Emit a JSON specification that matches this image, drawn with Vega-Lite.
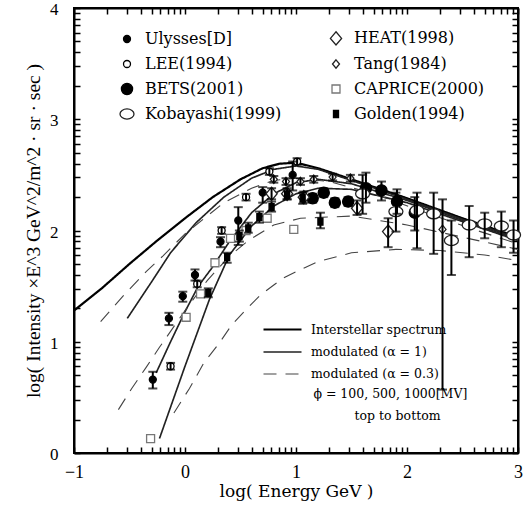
{
  "$schema": "https://vega.github.io/schema/vega-lite/v6.json",
  "width": 444,
  "height": 445,
  "autosize": {"type": "none"},
  "padding": {"left": 74, "top": 8, "right": 8, "bottom": 57},
  "background": "white",
  "config": {
    "font": "Liberation Serif",
    "view": {"stroke": "black", "strokeWidth": 2},
    "axis": {"grid": false, "domainColor": "black", "domainWidth": 2, "tickColor": "black", "tickWidth": 1.5, "labelColor": "black", "titleColor": "black", "labelFont": "Liberation Serif", "titleFont": "Liberation Serif", "labelFontSize": 18, "titleFontSize": 19, "titleFontWeight": "normal", "labelOverlap": false, "labelFlush": false},
    "legend": {"labelFont": "DejaVu Serif", "labelColor": "black", "padding": 0}
  },
  "datasets": {
    "curves": [
      {"c": "Interstellar spectrum", "g": "IS", "x": -1, "y": 1.28},
      {"c": "Interstellar spectrum", "g": "IS", "x": -0.75, "y": 1.48},
      {"c": "Interstellar spectrum", "g": "IS", "x": -0.5, "y": 1.70},
      {"c": "Interstellar spectrum", "g": "IS", "x": -0.25, "y": 1.91},
      {"c": "Interstellar spectrum", "g": "IS", "x": 0, "y": 2.11},
      {"c": "Interstellar spectrum", "g": "IS", "x": 0.25, "y": 2.30},
      {"c": "Interstellar spectrum", "g": "IS", "x": 0.5, "y": 2.46},
      {"c": "Interstellar spectrum", "g": "IS", "x": 0.7, "y": 2.56},
      {"c": "Interstellar spectrum", "g": "IS", "x": 0.85, "y": 2.60},
      {"c": "Interstellar spectrum", "g": "IS", "x": 1.0, "y": 2.61},
      {"c": "Interstellar spectrum", "g": "IS", "x": 1.2, "y": 2.56},
      {"c": "Interstellar spectrum", "g": "IS", "x": 1.5, "y": 2.46},
      {"c": "Interstellar spectrum", "g": "IS", "x": 2.0, "y": 2.29},
      {"c": "Interstellar spectrum", "g": "IS", "x": 2.5, "y": 2.11},
      {"c": "Interstellar spectrum", "g": "IS", "x": 3.0, "y": 1.94},

      {"c": "modulated (α = 1)", "g": "S100", "x": -0.52, "y": 1.21},
      {"c": "modulated (α = 1)", "g": "S100", "x": -0.42, "y": 1.36},
      {"c": "modulated (α = 1)", "g": "S100", "x": -0.3, "y": 1.54},
      {"c": "modulated (α = 1)", "g": "S100", "x": -0.13, "y": 1.80},
      {"c": "modulated (α = 1)", "g": "S100", "x": 0.1, "y": 2.07},
      {"c": "modulated (α = 1)", "g": "S100", "x": 0.35, "y": 2.30},
      {"c": "modulated (α = 1)", "g": "S100", "x": 0.6, "y": 2.47},
      {"c": "modulated (α = 1)", "g": "S100", "x": 0.8, "y": 2.55},
      {"c": "modulated (α = 1)", "g": "S100", "x": 1.0, "y": 2.58},
      {"c": "modulated (α = 1)", "g": "S100", "x": 1.2, "y": 2.55},
      {"c": "modulated (α = 1)", "g": "S100", "x": 1.5, "y": 2.45},
      {"c": "modulated (α = 1)", "g": "S100", "x": 2.0, "y": 2.28},
      {"c": "modulated (α = 1)", "g": "S100", "x": 2.5, "y": 2.10},
      {"c": "modulated (α = 1)", "g": "S100", "x": 3.0, "y": 1.93},

      {"c": "modulated (α = 1)", "g": "S500", "x": -0.26, "y": 0.72},
      {"c": "modulated (α = 1)", "g": "S500", "x": -0.13, "y": 1.0},
      {"c": "modulated (α = 1)", "g": "S500", "x": 0.0, "y": 1.27},
      {"c": "modulated (α = 1)", "g": "S500", "x": 0.12, "y": 1.50},
      {"c": "modulated (α = 1)", "g": "S500", "x": 0.24, "y": 1.66},
      {"c": "modulated (α = 1)", "g": "S500", "x": 0.4, "y": 1.90},
      {"c": "modulated (α = 1)", "g": "S500", "x": 0.6, "y": 2.16},
      {"c": "modulated (α = 1)", "g": "S500", "x": 0.8, "y": 2.33},
      {"c": "modulated (α = 1)", "g": "S500", "x": 1.0, "y": 2.43},
      {"c": "modulated (α = 1)", "g": "S500", "x": 1.2, "y": 2.46},
      {"c": "modulated (α = 1)", "g": "S500", "x": 1.5, "y": 2.42},
      {"c": "modulated (α = 1)", "g": "S500", "x": 2.0, "y": 2.27},
      {"c": "modulated (α = 1)", "g": "S500", "x": 2.5, "y": 2.09},
      {"c": "modulated (α = 1)", "g": "S500", "x": 3.0, "y": 1.92},

      {"c": "modulated (α = 1)", "g": "S1000", "x": -0.23, "y": 0.13},
      {"c": "modulated (α = 1)", "g": "S1000", "x": 0.0, "y": 0.78},
      {"c": "modulated (α = 1)", "g": "S1000", "x": 0.22, "y": 1.38},
      {"c": "modulated (α = 1)", "g": "S1000", "x": 0.4, "y": 1.78},
      {"c": "modulated (α = 1)", "g": "S1000", "x": 0.6, "y": 2.04},
      {"c": "modulated (α = 1)", "g": "S1000", "x": 0.8, "y": 2.22},
      {"c": "modulated (α = 1)", "g": "S1000", "x": 1.0, "y": 2.33},
      {"c": "modulated (α = 1)", "g": "S1000", "x": 1.2, "y": 2.38},
      {"c": "modulated (α = 1)", "g": "S1000", "x": 1.5, "y": 2.37},
      {"c": "modulated (α = 1)", "g": "S1000", "x": 2.0, "y": 2.25},
      {"c": "modulated (α = 1)", "g": "S1000", "x": 2.5, "y": 2.08},
      {"c": "modulated (α = 1)", "g": "S1000", "x": 3.0, "y": 1.91},

      {"c": "modulated (α = 0.3)", "g": "D100", "x": -0.76, "y": 1.18},
      {"c": "modulated (α = 0.3)", "g": "D100", "x": -0.55, "y": 1.42},
      {"c": "modulated (α = 0.3)", "g": "D100", "x": -0.35, "y": 1.63},
      {"c": "modulated (α = 0.3)", "g": "D100", "x": -0.2, "y": 1.77},
      {"c": "modulated (α = 0.3)", "g": "D100", "x": 0.0, "y": 1.97},
      {"c": "modulated (α = 0.3)", "g": "D100", "x": 0.2, "y": 2.13},
      {"c": "modulated (α = 0.3)", "g": "D100", "x": 0.35, "y": 2.25},
      {"c": "modulated (α = 0.3)", "g": "D100", "x": 0.6, "y": 2.38},
      {"c": "modulated (α = 0.3)", "g": "D100", "x": 0.8, "y": 2.45},
      {"c": "modulated (α = 0.3)", "g": "D100", "x": 1.0, "y": 2.47},
      {"c": "modulated (α = 0.3)", "g": "D100", "x": 1.3, "y": 2.44},
      {"c": "modulated (α = 0.3)", "g": "D100", "x": 1.7, "y": 2.33},
      {"c": "modulated (α = 0.3)", "g": "D100", "x": 2.2, "y": 2.15},
      {"c": "modulated (α = 0.3)", "g": "D100", "x": 2.6, "y": 2.01},
      {"c": "modulated (α = 0.3)", "g": "D100", "x": 3.0, "y": 1.88},

      {"c": "modulated (α = 0.3)", "g": "D500", "x": -0.6, "y": 0.39},
      {"c": "modulated (α = 0.3)", "g": "D500", "x": -0.48, "y": 0.58},
      {"c": "modulated (α = 0.3)", "g": "D500", "x": -0.35, "y": 0.77},
      {"c": "modulated (α = 0.3)", "g": "D500", "x": -0.23, "y": 0.95},
      {"c": "modulated (α = 0.3)", "g": "D500", "x": 0.0, "y": 1.28},
      {"c": "modulated (α = 0.3)", "g": "D500", "x": 0.2, "y": 1.55},
      {"c": "modulated (α = 0.3)", "g": "D500", "x": 0.4, "y": 1.77},
      {"c": "modulated (α = 0.3)", "g": "D500", "x": 0.57, "y": 1.91},
      {"c": "modulated (α = 0.3)", "g": "D500", "x": 0.8, "y": 2.05},
      {"c": "modulated (α = 0.3)", "g": "D500", "x": 1.04, "y": 2.11},
      {"c": "modulated (α = 0.3)", "g": "D500", "x": 1.5, "y": 2.13},
      {"c": "modulated (α = 0.3)", "g": "D500", "x": 2.0, "y": 2.05},
      {"c": "modulated (α = 0.3)", "g": "D500", "x": 2.5, "y": 1.94},
      {"c": "modulated (α = 0.3)", "g": "D500", "x": 3.0, "y": 1.83},

      {"c": "modulated (α = 0.3)", "g": "D1000", "x": -0.1, "y": 0.36},
      {"c": "modulated (α = 0.3)", "g": "D1000", "x": 0.04, "y": 0.58},
      {"c": "modulated (α = 0.3)", "g": "D1000", "x": 0.17, "y": 0.81},
      {"c": "modulated (α = 0.3)", "g": "D1000", "x": 0.31, "y": 0.99},
      {"c": "modulated (α = 0.3)", "g": "D1000", "x": 0.42, "y": 1.15},
      {"c": "modulated (α = 0.3)", "g": "D1000", "x": 0.56, "y": 1.30},
      {"c": "modulated (α = 0.3)", "g": "D1000", "x": 0.68, "y": 1.42},
      {"c": "modulated (α = 0.3)", "g": "D1000", "x": 0.8, "y": 1.51},
      {"c": "modulated (α = 0.3)", "g": "D1000", "x": 0.9, "y": 1.58},
      {"c": "modulated (α = 0.3)", "g": "D1000", "x": 1.02, "y": 1.64},
      {"c": "modulated (α = 0.3)", "g": "D1000", "x": 1.2, "y": 1.72},
      {"c": "modulated (α = 0.3)", "g": "D1000", "x": 1.5, "y": 1.80},
      {"c": "modulated (α = 0.3)", "g": "D1000", "x": 1.9, "y": 1.83},
      {"c": "modulated (α = 0.3)", "g": "D1000", "x": 2.3, "y": 1.82},
      {"c": "modulated (α = 0.3)", "g": "D1000", "x": 2.7, "y": 1.78},
      {"c": "modulated (α = 0.3)", "g": "D1000", "x": 3.0, "y": 1.73}
    ],
    "pts": [
      {"e": "Ulysses[D]", "x": -0.29, "y": 0.66, "lo": 0.58, "hi": 0.73},
      {"e": "Ulysses[D]", "x": -0.145, "y": 1.21, "lo": 1.15, "hi": 1.26},
      {"e": "Ulysses[D]", "x": -0.02, "y": 1.41, "lo": 1.36, "hi": 1.45},
      {"e": "Ulysses[D]", "x": 0.09, "y": 1.60, "lo": 1.55, "hi": 1.65},
      {"e": "Ulysses[D]", "x": 0.32, "y": 1.90, "lo": 1.85, "hi": 1.94},
      {"e": "Ulysses[D]", "x": 0.48, "y": 2.09, "lo": 1.87, "hi": 2.21},
      {"e": "Ulysses[D]", "x": 0.70, "y": 2.34, "lo": 2.25, "hi": 2.39},
      {"e": "Ulysses[D]", "x": 0.97, "y": 2.50, "lo": 2.36, "hi": 2.62},

      {"e": "LEE(1994)", "x": -0.13, "y": 0.78, "lo": 0.75, "hi": 0.81},
      {"e": "LEE(1994)", "x": 0.11, "y": 1.52, "lo": 1.49, "hi": 1.55},
      {"e": "LEE(1994)", "x": 0.33, "y": 2.0, "lo": 1.97, "hi": 2.03},
      {"e": "LEE(1994)", "x": 0.55, "y": 2.30, "lo": 2.27, "hi": 2.33},
      {"e": "LEE(1994)", "x": 0.76, "y": 2.53, "lo": 2.50, "hi": 2.56},
      {"e": "LEE(1994)", "x": 1.01, "y": 2.62, "lo": 2.59, "hi": 2.65},

      {"e": "BETS(2001)", "x": 1.15, "y": 2.29, "lo": 2.25, "hi": 2.33},
      {"e": "BETS(2001)", "x": 1.25, "y": 2.34, "lo": 2.30, "hi": 2.38},
      {"e": "BETS(2001)", "x": 1.35, "y": 2.25, "lo": 2.21, "hi": 2.29},
      {"e": "BETS(2001)", "x": 1.47, "y": 2.26, "lo": 2.22, "hi": 2.30},
      {"e": "BETS(2001)", "x": 1.63, "y": 2.38, "lo": 2.25, "hi": 2.52},
      {"e": "BETS(2001)", "x": 1.77, "y": 2.36, "lo": 2.27, "hi": 2.44},
      {"e": "BETS(2001)", "x": 1.91, "y": 2.26, "lo": 2.15, "hi": 2.37},
      {"e": "BETS(2001)", "x": 2.07, "y": 2.16, "lo": 2.0, "hi": 2.30},

      {"e": "Kobayashi(1999)", "x": 1.60, "y": 2.33, "lo": 2.15, "hi": 2.50},
      {"e": "Kobayashi(1999)", "x": 1.90, "y": 2.17, "lo": 1.99, "hi": 2.34},
      {"e": "Kobayashi(1999)", "x": 2.09, "y": 2.18, "lo": 1.84, "hi": 2.34},
      {"e": "Kobayashi(1999)", "x": 2.24, "y": 2.15, "lo": 1.79, "hi": 2.34},
      {"e": "Kobayashi(1999)", "x": 2.40, "y": 1.91, "lo": 1.60, "hi": 2.09},
      {"e": "Kobayashi(1999)", "x": 2.56, "y": 2.05, "lo": 1.76, "hi": 2.22},
      {"e": "Kobayashi(1999)", "x": 2.70, "y": 2.06, "lo": 1.93, "hi": 2.16},
      {"e": "Kobayashi(1999)", "x": 2.85, "y": 2.04, "lo": 1.85, "hi": 2.17},
      {"e": "Kobayashi(1999)", "x": 2.96, "y": 1.96, "lo": 1.80, "hi": 2.09},

      {"e": "HEAT(1998)", "x": 0.78, "y": 2.33, "lo": 2.28, "hi": 2.38},
      {"e": "HEAT(1998)", "x": 0.92, "y": 2.33, "lo": 2.28, "hi": 2.38},
      {"e": "HEAT(1998)", "x": 1.07, "y": 2.30, "lo": 2.25, "hi": 2.35},
      {"e": "HEAT(1998)", "x": 1.55, "y": 2.20, "lo": 2.14, "hi": 2.27},
      {"e": "HEAT(1998)", "x": 1.83, "y": 1.99, "lo": 1.85, "hi": 2.11},

      {"e": "Tang(1984)", "x": 0.80, "y": 2.46, "lo": 2.43, "hi": 2.49},
      {"e": "Tang(1984)", "x": 0.91, "y": 2.44, "lo": 2.41, "hi": 2.47},
      {"e": "Tang(1984)", "x": 1.04, "y": 2.44, "lo": 2.41, "hi": 2.47},
      {"e": "Tang(1984)", "x": 1.16, "y": 2.46, "lo": 2.43, "hi": 2.49},
      {"e": "Tang(1984)", "x": 1.33, "y": 2.48, "lo": 2.45, "hi": 2.51},
      {"e": "Tang(1984)", "x": 1.49, "y": 2.47, "lo": 2.44, "hi": 2.50},
      {"e": "Tang(1984)", "x": 2.32, "y": 2.01, "lo": 0.57, "hi": 2.28},

      {"e": "CAPRICE(2000)", "x": -0.31, "y": 0.13},
      {"e": "CAPRICE(2000)", "x": 0.01, "y": 1.22},
      {"e": "CAPRICE(2000)", "x": 0.14, "y": 1.43},
      {"e": "CAPRICE(2000)", "x": 0.27, "y": 1.71},
      {"e": "CAPRICE(2000)", "x": 0.41, "y": 1.93},
      {"e": "CAPRICE(2000)", "x": 0.55, "y": 2.0},
      {"e": "CAPRICE(2000)", "x": 0.74, "y": 2.11},
      {"e": "CAPRICE(2000)", "x": 0.98, "y": 2.01},

      {"e": "Golden(1994)", "x": 0.21, "y": 1.44, "lo": 1.40, "hi": 1.48},
      {"e": "Golden(1994)", "x": 0.38, "y": 1.76, "lo": 1.71, "hi": 1.80},
      {"e": "Golden(1994)", "x": 0.49, "y": 1.95, "lo": 1.90, "hi": 2.0},
      {"e": "Golden(1994)", "x": 0.57, "y": 2.02, "lo": 1.98, "hi": 2.07},
      {"e": "Golden(1994)", "x": 0.67, "y": 2.12, "lo": 2.07, "hi": 2.17},
      {"e": "Golden(1994)", "x": 0.78, "y": 2.21, "lo": 2.17, "hi": 2.26},
      {"e": "Golden(1994)", "x": 0.92, "y": 2.32, "lo": 2.28, "hi": 2.36},
      {"e": "Golden(1994)", "x": 1.06, "y": 2.29, "lo": 2.24, "hi": 2.34},
      {"e": "Golden(1994)", "x": 1.22, "y": 2.08, "lo": 2.02, "hi": 2.16}
    ],
    "notes": [
      {"t": "ϕ  =  100, 500, 1000[MV]", "x": 1.85, "y": 0.53},
      {"t": "top to bottom", "x": 1.915, "y": 0.33}
    ]
  },
  "layer": [
    {
      "data": {"name": "curves"},
      "mark": {"type": "line", "strokeCap": "butt"},
      "encoding": {
        "x": {"field": "x", "type": "quantitative",
              "scale": {"domain": [-1, 3], "nice": false, "zero": false},
              "axis": {"orient": "bottom", "title": "log( Energy   GeV )", "titlePadding": 2, "titleFont": "DejaVu Serif", "titleFontSize": 17,
                       "values": [-1,-0.69897,-0.52288,-0.39794,-0.30103,-0.22185,-0.1549,-0.09691,-0.04576,0,0.30103,0.47712,0.60206,0.69897,0.77815,0.8451,0.90309,0.95424,1,1.30103,1.47712,1.60206,1.69897,1.77815,1.8451,1.90309,1.95424,2,2.30103,2.47712,2.60206,2.69897,2.77815,2.8451,2.90309,2.95424,3],
                       "labelExpr": "abs(datum.value - round(datum.value)) < 0.001 ? format(datum.value, 'd') : ''",
                       "tickSize": -6, "labelPadding": 16}},
        "y": {"field": "y", "type": "quantitative",
              "scale": {"domain": [0, 4], "nice": false, "zero": false},
              "axis": {"orient": "left", "title": "log( Intensity ×E^3  GeV^2/m^2 · sr · sec )", "titlePadding": 6, "titleFontSize": 19.5,
                       "values": [0,0.30103,0.47712,0.60206,0.69897,0.77815,0.8451,0.90309,0.95424,1,1.30103,1.47712,1.60206,1.69897,1.77815,1.8451,1.90309,1.95424,2,2.30103,2.47712,2.60206,2.69897,2.77815,2.8451,2.90309,2.95424,3,3.30103,3.47712,3.60206,3.69897,3.77815,3.8451,3.90309,3.95424,4],
                       "labelExpr": "abs(datum.value - round(datum.value)) < 0.001 ? format(datum.value, 'd') : ''",
                       "tickSize": -6, "labelPadding": 22, "labelOffset": 1.5, "labelFontSize": 17}},
        "color": {"field": "c", "type": "nominal",
                  "scale": {"domain": ["Interstellar spectrum", "modulated (α = 1)", "modulated (α = 0.3)"], "range": ["#000000", "#222222", "#444444"]},
                  "legend": {"title": null, "orient": "none", "legendX": 197.5, "legendY": 310.5, "symbolType": "M-2,0L2,0", "symbolSize": 361, "symbolFillColor": "transparent", "labelFontSize": 12.5, "rowPadding": 5, "labelOffset": 17.5}},
        "strokeDash": {"field": "c", "type": "nominal",
                  "scale": {"domain": ["Interstellar spectrum", "modulated (α = 1)", "modulated (α = 0.3)"], "range": [[1, 0], [1, 0], [13, 9]]},
                  "legend": {"title": null, "orient": "none", "legendX": 197.5, "legendY": 310.5, "symbolType": "M-2,0L2,0", "symbolSize": 361, "symbolFillColor": "transparent", "labelFontSize": 12.5, "rowPadding": 5, "labelOffset": 17.5}},
        "strokeWidth": {"field": "c", "type": "nominal",
                  "scale": {"domain": ["Interstellar spectrum", "modulated (α = 1)", "modulated (α = 0.3)"], "range": [2.2, 1.1, 1.1]},
                  "legend": {"title": null, "orient": "none", "legendX": 197.5, "legendY": 310.5, "symbolType": "M-2,0L2,0", "symbolSize": 361, "symbolFillColor": "transparent", "labelFontSize": 12.5, "rowPadding": 5, "labelOffset": 17.5}},
        "detail": {"field": "g"}
      }
    },
    {
      "data": {"name": "curves"},
      "mark": {"type": "point", "opacity": 0},
      "encoding": {
        "x": {"field": "x", "type": "quantitative",
              "axis": {"orient": "top", "title": null, "labels": false,
                       "values": [-1,-0.69897,-0.52288,-0.39794,-0.30103,-0.22185,-0.1549,-0.09691,-0.04576,0,0.30103,0.47712,0.60206,0.69897,0.77815,0.8451,0.90309,0.95424,1,1.30103,1.47712,1.60206,1.69897,1.77815,1.8451,1.90309,1.95424,2,2.30103,2.47712,2.60206,2.69897,2.77815,2.8451,2.90309,2.95424,3],
                       "tickSize": -6}},
        "y": {"field": "y", "type": "quantitative",
              "axis": {"orient": "right", "title": null, "labels": false,
                       "values": [0,0.30103,0.47712,0.60206,0.69897,0.77815,0.8451,0.90309,0.95424,1,1.30103,1.47712,1.60206,1.69897,1.77815,1.8451,1.90309,1.95424,2,2.30103,2.47712,2.60206,2.69897,2.77815,2.8451,2.90309,2.95424,3,3.30103,3.47712,3.60206,3.69897,3.77815,3.8451,3.90309,3.95424,4],
                       "tickSize": -6}}
      }
    },
    {
      "data": {"name": "pts"},
      "mark": {"type": "point", "opacity": 1, "strokeWidth": 1.3, "size": 196},
      "encoding": {
        "x": {"field": "x", "type": "quantitative", "axis": null},
        "y": {"field": "y", "type": "quantitative", "axis": null},
        "shape": {"field": "e", "type": "nominal",
                  "scale": {"domain": ["Ulysses[D]", "LEE(1994)", "BETS(2001)", "Kobayashi(1999)", "HEAT(1998)", "Tang(1984)", "CAPRICE(2000)", "Golden(1994)"],
                            "range": ["M-0.5,0A0.5,0.5,0,1,1,0.5,0A0.5,0.5,0,1,1,-0.5,0Z",
                                      "M-0.5,0A0.5,0.5,0,1,1,0.5,0A0.5,0.5,0,1,1,-0.5,0Z",
                                      "M-0.8,0A0.8,0.8,0,1,1,0.8,0A0.8,0.8,0,1,1,-0.8,0Z",
                                      "M-1,0A1,0.72,0,1,1,1,0A1,0.72,0,1,1,-1,0Z",
                                      "M0,-0.95L0.8,0L0,0.95L-0.8,0Z",
                                      "M0,-0.6L0.5,0L0,0.6L-0.5,0Z",
                                      "M-0.57,-0.57L0.57,-0.57L0.57,0.57L-0.57,0.57Z",
                                      "M-0.36,-0.5L0.36,-0.5L0.36,0.5L-0.36,0.5Z"]},
                  "legend": {"title": null, "orient": "none", "legendX": 45, "legendY": 22, "columns": 2, "columnPadding": 45, "labelFontSize": 16, "rowPadding": 8, "labelOffset": 10, "symbolSize": 196, "symbolStrokeWidth": 1.3}},
        "fill": {"field": "e", "type": "nominal",
                  "scale": {"domain": ["Ulysses[D]", "LEE(1994)", "BETS(2001)", "Kobayashi(1999)", "HEAT(1998)", "Tang(1984)", "CAPRICE(2000)", "Golden(1994)"],
                            "range": ["#000000", "#ffffff", "#000000", "#ffffff", "#ffffff", "#ffffff", "#ffffff", "#000000"]},
                  "legend": {"title": null, "orient": "none", "legendX": 45, "legendY": 22, "columns": 2, "columnPadding": 45, "labelFontSize": 16, "rowPadding": 8, "labelOffset": 10, "symbolSize": 196, "symbolStrokeWidth": 1.3}},
        "stroke": {"field": "e", "type": "nominal",
                  "scale": {"domain": ["Ulysses[D]", "LEE(1994)", "BETS(2001)", "Kobayashi(1999)", "HEAT(1998)", "Tang(1984)", "CAPRICE(2000)", "Golden(1994)"],
                            "range": ["#000000", "#000000", "#000000", "#222222", "#222222", "#222222", "#777777", "#000000"]},
                  "legend": {"title": null, "orient": "none", "legendX": 45, "legendY": 22, "columns": 2, "columnPadding": 45, "labelFontSize": 16, "rowPadding": 8, "labelOffset": 10, "symbolSize": 196, "symbolStrokeWidth": 1.3}}
      }
    },
    {
      "data": {"name": "pts"},
      "transform": [{"filter": "isValid(datum.lo)"}],
      "mark": {"type": "rule", "color": "black", "strokeWidth": 2},
      "encoding": {
        "x": {"field": "x", "type": "quantitative", "axis": null},
        "y": {"field": "lo", "type": "quantitative", "axis": null},
        "y2": {"field": "hi"}
      }
    },
    {
      "data": {"name": "pts"},
      "transform": [{"filter": "isValid(datum.lo)"}],
      "mark": {"type": "tick", "orient": "horizontal", "color": "black", "size": 9, "thickness": 2},
      "encoding": {
        "x": {"field": "x", "type": "quantitative", "axis": null},
        "y": {"field": "lo", "type": "quantitative", "axis": null}
      }
    },
    {
      "data": {"name": "pts"},
      "transform": [{"filter": "isValid(datum.hi)"}],
      "mark": {"type": "tick", "orient": "horizontal", "color": "black", "size": 9, "thickness": 2},
      "encoding": {
        "x": {"field": "x", "type": "quantitative", "axis": null},
        "y": {"field": "hi", "type": "quantitative", "axis": null}
      }
    },
    {
      "data": {"name": "notes"},
      "mark": {"type": "text", "fontSize": 12.5, "color": "black", "font": "DejaVu Serif"},
      "encoding": {
        "x": {"field": "x", "type": "quantitative", "axis": null},
        "y": {"field": "y", "type": "quantitative", "axis": null},
        "text": {"field": "t"}
      }
    }
  ],
  "resolve": {"axis": {"x": "independent", "y": "independent"}}
}
